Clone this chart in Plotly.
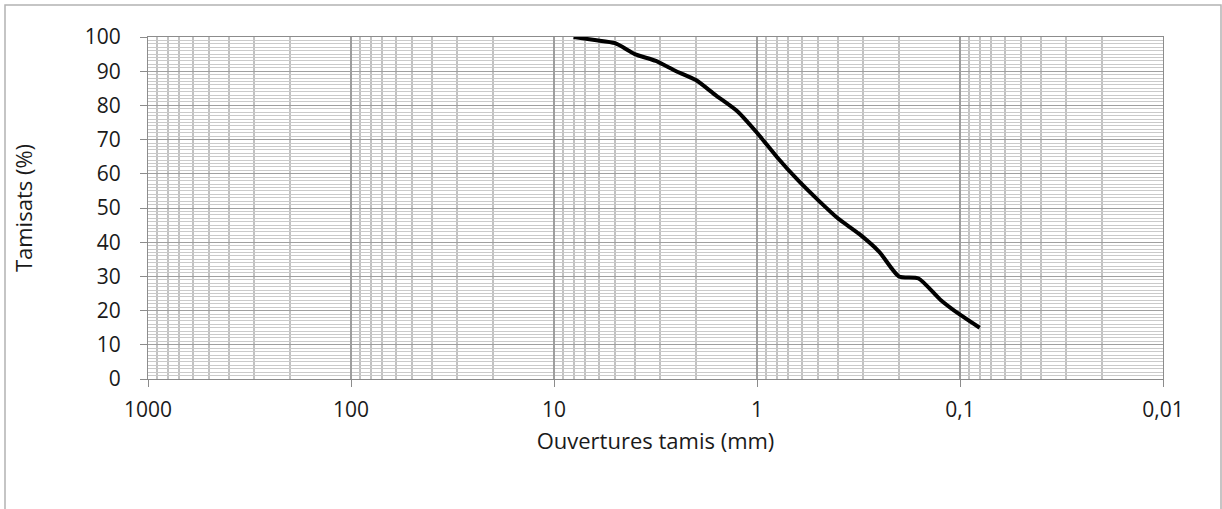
import plotly.graph_objects as go

# Data
sieve_mm = [8, 6.3, 5, 4, 3.15, 2.5, 2, 1.6, 1.25, 1, 0.8, 0.63, 0.5, 0.4,
            0.315, 0.25, 0.2, 0.16, 0.125, 0.1, 0.08]
passing_pct = [100, 99.1, 98.2, 95, 93, 90, 87.4, 83, 78.3, 72, 65, 58.2, 52.3, 47,
               42.5, 37.2, 30, 29.4, 23.2, 18.8, 15]

x_tickvals = [1000, 100, 10, 1, 0.1, 0.01]
x_ticktext = ["1000", "100", "10", "1", "0,1", "0,01"]
y_tickvals = [0, 10, 20, 30, 40, 50, 60, 70, 80, 90, 100]

FONT = "Open Sans"
TXT = "#1a1a1a"

fig = go.Figure()
fig.add_trace(go.Scatter(
    x=sieve_mm, y=passing_pct, mode="lines",
    line=dict(color="black", width=4, shape="spline", smoothing=0.6),
    hoverinfo="x+y", showlegend=False,
))

fig.update_layout(
    width=1222, height=509,
    margin=dict(l=148, r=59, t=37, b=130),
    paper_bgcolor="white", plot_bgcolor="white",
    font=dict(family=FONT, size=21, color=TXT),
    xaxis=dict(
        type="log", range=[3, -2],
        tickvals=x_tickvals, ticktext=x_ticktext,
        showgrid=True, gridcolor="#9e9e9e", gridwidth=1.5,
        minor=dict(dtick="D1", showgrid=True, gridcolor="#c2c2c2", gridwidth=1.5,
                   ticks=""),
        showline=True, linecolor="#8c8c8c", linewidth=1,
        mirror=True,
        ticks="outside", ticklen=7, tickcolor="#8c8c8c",
        ticklabelstandoff=5,
        tickfont=dict(family=FONT, size=21, color=TXT),
        title=dict(text="Ouvertures tamis (mm)", standoff=11,
                   font=dict(family=FONT, size=22, color=TXT)),
        zeroline=False,
    ),
    yaxis=dict(
        range=[0, 100], tickvals=y_tickvals,
        showgrid=True, gridcolor="#a0a0a0", gridwidth=1,
        minor=dict(dtick=1, showgrid=True, gridcolor="#cacaca", gridwidth=1,
                   ticks=""),
        showline=True, linecolor="#8c8c8c", linewidth=1,
        mirror=True,
        ticks="outside", ticklen=7, tickcolor="#8c8c8c",
        ticklabelstandoff=15,
        tickfont=dict(family=FONT, size=21, color=TXT),
        title=dict(text="Tamisats (%)", standoff=46,
                   font=dict(family=FONT, size=22, color=TXT)),
        zeroline=False,
    ),
    shapes=[dict(
        type="rect", xref="paper", yref="paper",
        x0=(5 - 148) / 1015, x1=(1221 - 148) / 1015,
        y0=-0.6, y1=(379 - 5) / 342,
        line=dict(color="#b3b3b3", width=1.5), fillcolor="rgba(0,0,0,0)",
        layer="below",
    )],
)

fig.write_html("out.html")
